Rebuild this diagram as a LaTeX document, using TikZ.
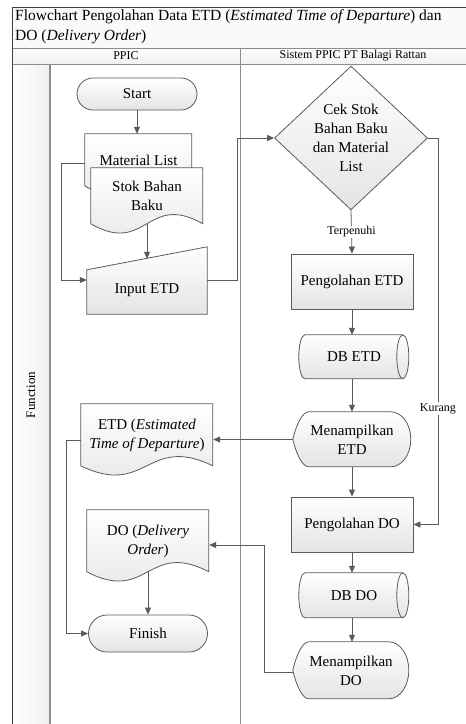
\documentclass[tikz,border=0pt]{standalone}
\usepackage{fontspec}
\setmainfont{Liberation Serif}
\usetikzlibrary{arrows.meta,positioning,shapes.geometric,shapes.misc,backgrounds,calc}

\definecolor{lineclr}{HTML}{5A5A5A}
\definecolor{boxclr}{HTML}{E4E4E4}
\definecolor{frameclr}{HTML}{8C8C8C}

% document shape: node, width, height down to the corners
\newcommand{\docshape}[3]{%
  \path[line,shade,shift={(#1.north west)}] (0,0) -- (#2,0) -- (#2,#3)
    .. controls ({0.5*#2},{#3-32}) and ({0.5*#2},{#3+32}) .. (0,#3) -- cycle;}
% display shape: node, width, height
\newcommand{\dispshape}[3]{%
  \path[line,shade,shift={(#1.north west)}] (0,{#3/2})
    .. controls (4,{0.2*#3}) and (10,0) .. (16,0) -- ({#2-20},0)
    .. controls ({#2-9},0) and (#2,{0.22*#3}) .. (#2,{#3/2})
    .. controls (#2,{0.78*#3}) and ({#2-9},#3) .. ({#2-20},#3)
    -- (16,#3) .. controls (10,#3) and (4,{0.8*#3}) .. cycle;}
% stored data (lying drum): node, width, height
\newcommand{\storeshape}[3]{%
  \path[line,shade,shift={(#1.north west)}] (6,0) -- ({#2-6},0)
    .. controls ({#2-2.7},0) and (#2,{0.225*#3}) .. (#2,{#3/2})
    .. controls (#2,{0.775*#3}) and ({#2-2.7},#3) .. ({#2-6},#3)
    -- (6,#3) .. controls (2.7,#3) and (0,{0.775*#3}) .. (0,{#3/2})
    .. controls (0,{0.225*#3}) and (2.7,0) .. cycle;
  \draw[line,shift={(#1.north west)}] ({#2-6},0)
    .. controls ({#2-9.3},0) and ({#2-12},{0.225*#3}) .. ({#2-12},{#3/2})
    .. controls ({#2-12},{0.775*#3}) and ({#2-9.3},#3) .. ({#2-6},#3);}

\begin{document}
\begin{tikzpicture}[x=1pt,y=-1pt,font=\fontsize{15}{19}\selectfont,
  >={Triangle[length=7pt,width=6pt]},
  line/.style={draw=lineclr,line width=0.8pt},
  flow/.style={line,->},
  shade/.style={top color=white,bottom color=boxclr},
  proc/.style={line,shade,rectangle,minimum width=122pt,minimum height=55pt,inner sep=0pt},
  term/.style={line,shade,rounded rectangle,minimum width=120pt,inner sep=0pt},
  doc/.style={rectangle,inner sep=0pt,align=center},
  decision/.style={line,shade,diamond,minimum width=153pt,minimum height=141pt,inner sep=0pt,align=center},
  lbl/.style={fill=white,inner sep=1pt,font=\fontsize{12}{14}\selectfont}]
  \useasboundingbox (0,0) rectangle (466,724);

  % frame and lanes
  \fill[gray!4] (12,7) rectangle (466,48);
  \fill[top color=gray!3,bottom color=gray!10] (12,48) rectangle (466,64);
  \fill[left color=white,right color=gray!12] (12,64) rectangle (50,724);
  \draw[frameclr,line width=0.8pt] (12,48) -- (466,48) (12,64) -- (466,64)
    (240,48) -- (240,724);
  \draw[frameclr,line width=1.6pt] (50,64) -- (50,724);
  \draw[black!75,line width=1pt] (466,7) -- (12,7) -- (12,724);

  \node[anchor=north west,align=left,inner sep=0pt,font=\fontsize{15.5}{20}\selectfont] (title) at (15,9)
    {Flowchart Pengolahan Data ETD (\textit{Estimated Time of Departure}) dan\\DO (\textit{Delivery Order})};
  \node[font=\fontsize{12}{14}\selectfont] (ppic) at (126,56) {PPIC};
  \node[font=\fontsize{12}{14}\selectfont] (sistem) at (353,56) {Sistem PPIC PT Balagi Rattan};
  \node[rotate=90,font=\fontsize{13}{15}\selectfont] (fn) at (31,395) {Function};

  % PPIC lane
  \node[term,minimum height=32pt] (start) at (137,94) {Start};
  \node[doc,minimum width=107pt,minimum height=52pt] (mat) at (138.5,160) {Material List};
  \node[doc,minimum width=112pt,minimum height=56pt] (stok) at (147,196) {Stok Bahan\\Baku};
  \node[doc,minimum width=120pt,minimum height=48pt] (input) at (147,290) {Input ETD};
  \node[doc,minimum width=132pt,minimum height=62pt] (etd) at (147,435)
    {ETD (\textit{Estimated}\\\textit{Time of Departure})};
  \node[doc,minimum width=122pt,minimum height=62pt] (dodoc) at (148,541)
    {DO (\textit{Delivery}\\\textit{Order})};
  \node[term,minimum height=37pt,minimum width=119pt] (finish) at (148,633.5) {Finish};

  % system lane
  \node[decision] (cek) at (351,138) {Cek Stok\\Bahan Baku\\dan Material\\List};
  \node[proc] (olahetd) at (352,281.5) {Pengolahan ETD};
  \node[doc,minimum width=110pt,minimum height=44pt] (dbetd) at (354,357) {DB ETD};
  \node[doc,minimum width=118pt,minimum height=55pt] (tampiletd) at (352,439.5) {Menampilkan\\ETD};
  \node[proc] (olahdo) at (352,524.5) {Pengolahan DO};
  \node[doc,minimum width=110pt,minimum height=45pt] (dbdo) at (354,595.5) {DB DO};
  \node[doc,minimum width=116pt,minimum height=57pt] (tampildo) at (351,670.5) {Menampilkan\\DO};

  \begin{scope}[on background layer]
    \docshape{mat}{107}{52}
    \docshape{stok}{112}{56}
    \path[line,shade] (input.south west) -- ($(input.north west)+(0,4)$)
      -- ($(input.north east)+(0,-19)$) -- (input.south east) -- cycle;
    \docshape{etd}{132}{62}
    \docshape{dodoc}{122}{62}
    \storeshape{dbetd}{110}{44}
    \storeshape{dbdo}{110}{45}
    \dispshape{tampiletd}{118}{55}
    \dispshape{tampildo}{116}{57}
  \end{scope}

  % connectors
  \draw[flow] (start.south) -- (start.south |- mat.north);
  \draw[flow] (stok.south) -- ($(input.north)+(0,-7)$);
  \draw[flow] ($(mat.west)+(0,3)$) -- ++(-23,0) |- ($(input.west)+(0,-10)$);
  \draw[flow] ($(input.east)+(0,-10)$) -- ++(30,0) |- (cek.west);
  \draw[flow] (cek.south) -- node[lbl] {Terpenuhi} (olahetd.north);
  \draw[flow] (cek.east) -- ++(10,0) |- node[lbl,pos=0.35] {Kurang} (olahdo.east);
  \draw[flow] (olahetd.south) -- (olahetd.south |- dbetd.north);
  \draw[flow] (olahetd.south |- dbetd.south) -- (tampiletd.north);
  \draw[flow] (tampiletd.west) -- (etd.east |- tampiletd.west);
  \draw[flow] (tampiletd.south) -- (olahdo.north);
  \draw[flow] (olahdo.south) -- (olahdo.south |- dbdo.north);
  \draw[flow] (olahdo.south |- dbdo.south) -- (olahdo.south |- tampildo.north);
  \draw[flow] ($(tampildo.west)+(0,2)$) -- ++(-28,0) |- ($(dodoc.east)+(0,4)$);
  \draw[flow] ($(etd.west)+(0,5)$) -- ++(-14,0) |- (finish.west);
  \draw[flow] (dodoc.south) -- (finish.north);
\end{tikzpicture}
\end{document}
